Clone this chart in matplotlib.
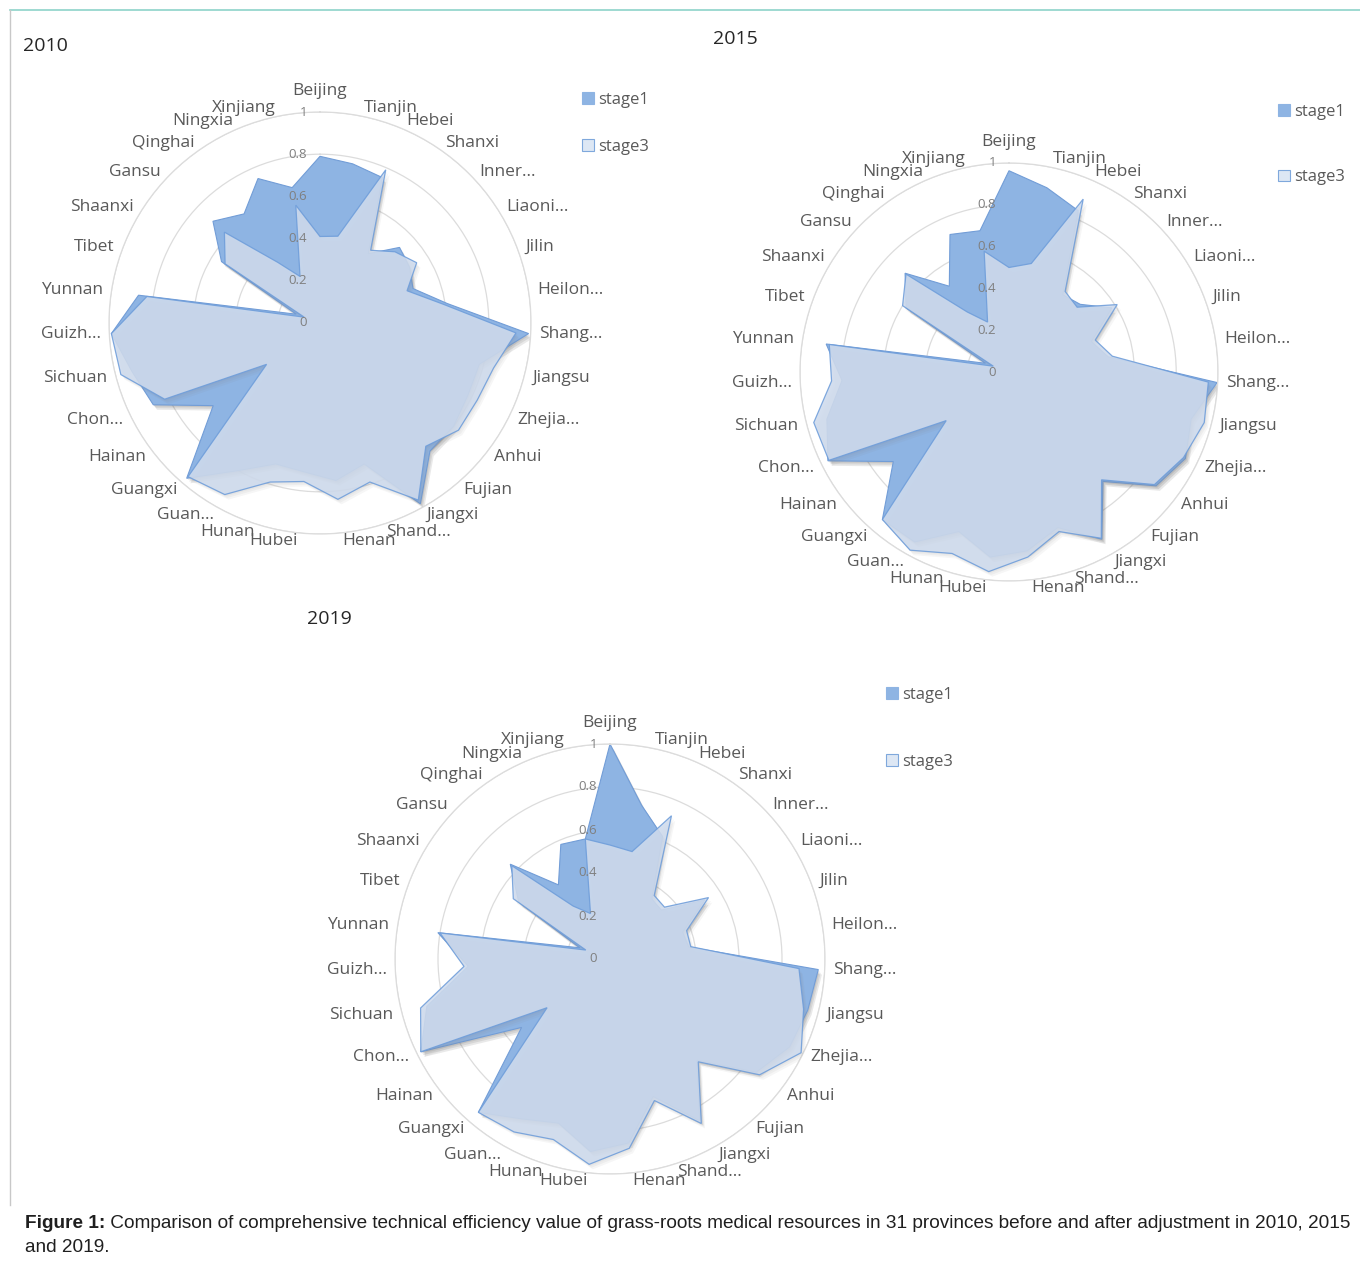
import numpy as np
import matplotlib
matplotlib.use("Agg")
import matplotlib.pyplot as plt
from matplotlib import patheffects as pe
from matplotlib.patches import Patch
from matplotlib.lines import Line2D
from matplotlib.transforms import offset_copy

# ---------------- data ----------------
provinces = ["Beijing", "Tianjin", "Hebei", "Shanxi", "Inner...", "Liaoni...", "Jilin",
             "Heilon...", "Shang...", "Jiangsu", "Zhejia...", "Anhui", "Fujian", "Jiangxi",
             "Shand...", "Henan", "Hubei", "Hunan", "Guan...", "Guangxi", "Hainan", "Chon...",
             "Sichuan", "Guizh...", "Yunnan", "Tibet", "Shaanxi", "Gansu", "Qinghai",
             "Ningxia", "Xinjiang"]

stage1_2010 = [0.79, 0.77, 0.75, 0.40, 0.52, 0.50, 0.47, 0.61, 0.99, 0.78, 0.78, 0.80, 0.80,
               0.98, 0.70, 0.75, 0.71, 0.70, 0.80, 0.97, 0.64, 0.88, 0.92, 0.99, 0.87, 0.12,
               0.55, 0.70, 0.63, 0.745, 0.655]
stage3_2010 = [0.41, 0.42, 0.79, 0.42, 0.49, 0.54, 0.44, 0.59, 0.93, 0.85, 0.83, 0.83, 0.77,
               0.96, 0.79, 0.84, 0.755, 0.79, 0.93, 0.96, 0.32, 0.82, 0.975, 0.99, 0.83, 0.08,
               0.53, 0.625, 0.35, 0.24, 0.57]

stage1_2015 = [0.963, 0.90, 0.84, 0.45, 0.47, 0.58, 0.42, 0.48, 0.997, 0.90, 0.94, 0.89, 0.69,
               0.915, 0.78, 0.86, 0.89, 0.80, 0.93, 0.93, 0.70, 0.965, 0.90, 0.80, 0.885, 0.12,
               0.58, 0.686, 0.50, 0.716, 0.69]
stage3_2015 = [0.50, 0.53, 0.90, 0.47, 0.45, 0.61, 0.44, 0.50, 0.955, 0.965, 0.93, 0.88, 0.68,
               0.91, 0.80, 0.89, 0.96, 0.91, 0.975, 0.93, 0.38, 0.96, 0.965, 0.85, 0.87, 0.08,
               0.60, 0.68, 0.35, 0.26, 0.59]

stage1_2019 = [1.0, 0.73, 0.62, 0.34, 0.33, 0.52, 0.36, 0.37, 0.97, 0.95, 0.93, 0.86, 0.62,
               0.86, 0.67, 0.86, 0.90, 0.80, 0.85, 0.94, 0.52, 0.98, 0.88, 0.66, 0.81, 0.15,
               0.50, 0.64, 0.42, 0.58, 0.57]
stage3_2019 = [0.53, 0.51, 0.725, 0.36, 0.35, 0.54, 0.38, 0.38, 0.88, 0.93, 0.99, 0.88, 0.63,
               0.875, 0.69, 0.885, 0.96, 0.88, 0.92, 0.94, 0.37, 0.98, 0.91, 0.68, 0.80, 0.12,
               0.53, 0.63, 0.30, 0.23, 0.57]

years = ["2010", "2015", "2019"]
series_labels = ["stage1", "stage3"]
r_ticks = [0, 0.2, 0.4, 0.6, 0.8, 1.0]
r_tick_labels = ["0", "0.2", "0.4", "0.6", "0.8", "1"]
caption_bold = "Figure 1:"
caption_line1 = (" Comparison of comprehensive technical efficiency value of grass-roots medical "
                 "resources in 31 provinces before and after adjustment in 2010, 2015")
caption_line2 = "and 2019."

# ---------------- style / layout ----------------
W, H = 1360, 1264
FONT = ["Open Sans", "DejaVu Sans"]
CAP_FONT = ["Liberation Sans", "DejaVu Sans"]
C1_FACE = "#8EB4E3"
C1_EDGE = "#729DD7"
C3_FACE = "#CFDBED"
C3_EDGE = "#6E9DDA"
LABEL_COLOR = "#595959"

fig = plt.figure(figsize=(W / 100, H / 100), dpi=100)
fig.patch.set_facecolor("white")

layout = {
    "2010": dict(c=(320, 323, 211), title=(45, 46), leg=(582, 92), ls=1.85),
    "2015": dict(c=(1009, 372, 209), title=(735, 39), leg=(1278, 104), ls=2.95),
    "2019": dict(c=(610, 959, 215), title=(329, 619), leg=(886, 687), ls=3.05),
}
data = {
    "2010": (stage1_2010, stage3_2010),
    "2015": (stage1_2015, stage3_2015),
    "2019": (stage1_2019, stage3_2019),
}


def soft_shadow(color, alpha, steps=3):
    effects = []
    for k in range(steps, 0, -1):
        effects.append(pe.SimplePatchShadow(offset=(0.9 * k, -1.2 * k), shadow_rgbFace=color,
                                            alpha=alpha))
    effects.append(pe.Normal())
    return effects


N = len(provinces)
theta = np.arange(N) * 2 * np.pi / N
theta_c = np.append(theta, theta[0])

for yr in years:
    cx, cy, R = layout[yr]["c"]
    ax = fig.add_axes([(cx - R) / W, (H - cy - R) / H, 2 * R / W, 2 * R / H],
                      projection="polar")
    ax.set_theta_zero_location("N")
    ax.set_theta_direction(-1)
    ax.set_ylim(0, 1.0)
    ax.set_facecolor("none")
    ax.set_yticks(r_ticks[1:])
    ax.set_yticklabels([])
    ax.set_xticks([])
    ax.xaxis.grid(False)
    ax.yaxis.grid(True, color="#DCDCDC", lw=0.9)
    ax.spines["polar"].set_color("#DCDCDC")
    ax.spines["polar"].set_linewidth(0.9)

    s1, s3 = data[yr]
    v1 = np.append(s1, s1[0])
    v3 = np.append(s3, s3[0])
    ax.fill(theta_c, v1, facecolor=C1_FACE, edgecolor=C1_EDGE, lw=0.8, zorder=2,
            path_effects=soft_shadow("#505050", 0.12))
    ax.fill(theta_c, v3, facecolor=C3_FACE, edgecolor=C3_EDGE, lw=0.9, alpha=0.88, zorder=3,
            path_effects=soft_shadow("#808080", 0.07))

    # category labels
    for t, name in zip(theta, provinces):
        s = np.sin(t)
        if abs(s) < 0.05:
            ax.text(t, 1.06, name, ha="center", va="bottom", fontsize=12.5,
                    color=LABEL_COLOR, family=FONT, clip_on=False)
        else:
            ax.text(t, 1.04, name, ha="left" if s > 0 else "right", va="center",
                    fontsize=12.5, color=LABEL_COLOR, family=FONT, clip_on=False)

    # radial tick labels
    tr = offset_copy(ax.transData, fig=fig, x=-13, y=0, units="dots")
    for v, lbl in zip(r_ticks, r_tick_labels):
        ax.text(0, v, lbl, transform=tr, ha="right", va="center", fontsize=9.5,
                color="#7F7F7F", family=FONT, zorder=5, clip_on=False)

    # title
    tx, ty = layout[yr]["title"]
    fig.text(tx / W, 1 - ty / H, yr, ha="center", va="center", fontsize=14,
             color="#262626", family=FONT)

    # legend
    lx, ly = layout[yr]["leg"]
    handles = [Patch(facecolor=C1_FACE, edgecolor=C1_FACE, lw=0.8, label=series_labels[0]),
               Patch(facecolor="#DDE7F4", edgecolor="#7FA8DC", lw=0.8, label=series_labels[1])]
    fig.legend(handles=handles, loc="upper left", bbox_to_anchor=(lx / W, 1 - ly / H),
               bbox_transform=fig.transFigure, frameon=False, prop={"family": FONT, "size": 12},
               labelcolor=LABEL_COLOR, handlelength=0.7, handleheight=0.7,
               handletextpad=0.25, labelspacing=layout[yr]["ls"], borderpad=0,
               borderaxespad=0)

# frame lines
fig.add_artist(Line2D([10 / W, 1.0], [1 - 10 / H, 1 - 10 / H], transform=fig.transFigure,
                      color="#8ED3C9", lw=1.2))
fig.add_artist(Line2D([10 / W, 10 / W], [1 - 10 / H, 1 - 1205 / H], transform=fig.transFigure,
                      color="#C8C8C8", lw=1.0))

# caption: size chosen so the first line spans the page width (justified look)
renderer = fig.canvas.get_renderer()
probe_b = fig.text(0, 0, caption_bold, fontsize=13, fontweight="bold", family=CAP_FONT)
probe_r = fig.text(0, 0, caption_line1, fontsize=13, family=CAP_FONT)
w13 = probe_b.get_window_extent(renderer).width + probe_r.get_window_extent(renderer).width
probe_b.remove()
probe_r.remove()
cap_fs = 13 * (1330.0 / w13)

tb = fig.text(25 / W, 1 - 1224 / H, caption_bold, ha="left", va="center", fontsize=cap_fs,
              fontweight="bold", family=CAP_FONT, color="#1F1F1F")
bb = tb.get_window_extent(renderer)
fig.text(bb.x1 / W, 1 - 1224 / H, caption_line1, ha="left", va="center", fontsize=cap_fs,
         family=CAP_FONT, color="#1F1F1F")
fig.text(25 / W, 1 - 1247 / H, caption_line2, ha="left", va="center", fontsize=cap_fs,
         family=CAP_FONT, color="#1F1F1F")

fig.savefig("out.png", dpi=100, facecolor="white")
